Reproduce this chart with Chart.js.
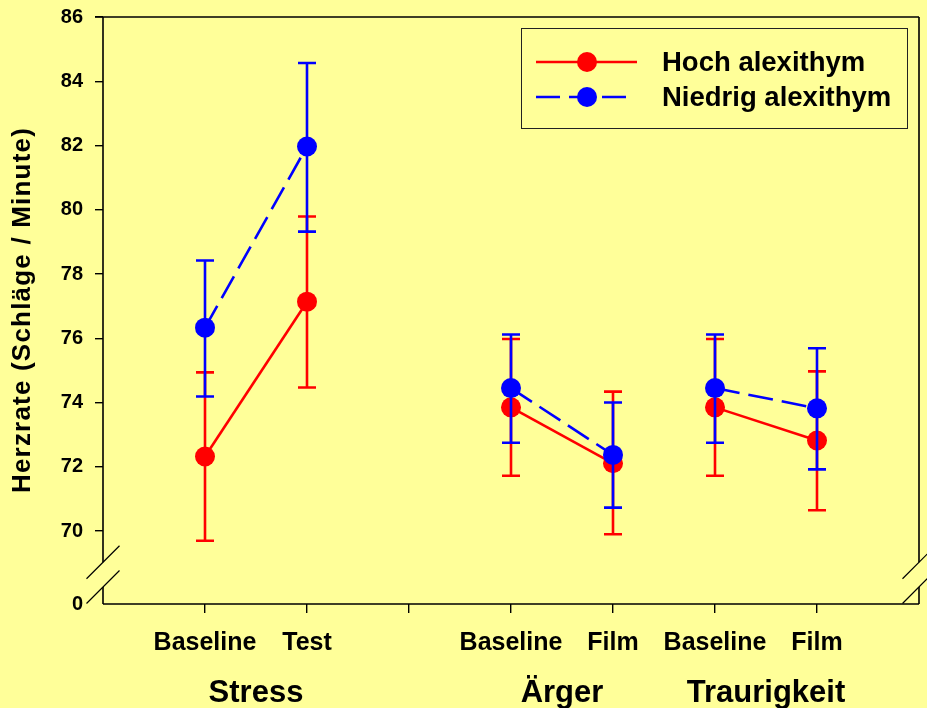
<!DOCTYPE html>
<html>
<head>
<meta charset="utf-8">
<title>Herzrate</title>
<script src="https://cdn.jsdelivr.net/npm/chart.js@4/dist/chart.umd.min.js"></script>
<style>
  html, body { margin: 0; padding: 0; background: #FFFF99; }
  #wrap { width: 927px; height: 708px; }
</style>
</head>
<body>
<div id="wrap"><canvas id="chart" width="927" height="708"></canvas></div>
<script>
// Conditions along the x axis (position 3 is an empty slot between Stress and Ärger)
const conditionLabels = ['Baseline', 'Test', 'Baseline', 'Film', 'Baseline', 'Film'];
const conditionPos = [1, 2, 4, 5, 6, 7];
const conditionGroup = ['Stress', 'Stress', 'Ärger', 'Ärger', 'Traurigkeit', 'Traurigkeit'];
const groupLabels = ['Stress', 'Ärger', 'Traurigkeit'];
const xTickPositions = [1, 2, 3, 4, 5, 6, 7];

// Heart rate (beats per minute), means with error bar limits
const hochMean  = [72.32, 77.14, 73.85, 72.11, 73.85, 72.82];
const hochUpper = [74.94, 79.79, 75.98, 74.34, 75.98, 74.97];
const hochLower = [69.70, 74.47, 71.72, 69.90, 71.72, 70.65];

const niedrigMean  = [76.33, 81.97, 74.45, 72.37, 74.45, 73.82];
const niedrigUpper = [78.42, 84.57, 76.12, 74.00, 76.12, 75.69];
const niedrigLower = [74.19, 79.32, 72.75, 70.73, 72.75, 71.92];

// Y axis: broken axis, bottom end labelled 0, then 70..86
const yTickValues = [70, 72, 74, 76, 78, 80, 82, 84, 86];
const yBottomValue = 67.73;
const yBottomLabel = '0';
const axisBreak = [68.26, 69.03];

const seriesNames = ['Hoch alexithym', 'Niedrig alexithym'];
const RED = '#FF0000';
const BLUE = '#0000FF';
const FONT = '"Liberation Sans", Arial, Helvetica, sans-serif';

const errorBars = [
  { upper: hochUpper, lower: hochLower },
  { upper: niedrigUpper, lower: niedrigLower }
];

function points(values) {
  return conditionPos.map((x, i) => ({ x: x, y: values[i] }));
}

// Lines only join points of the same block
function segColor(ctx) {
  return conditionGroup[ctx.p0DataIndex] === conditionGroup[ctx.p1DataIndex] ? undefined : 'rgba(0,0,0,0)';
}

const errorBarPlugin = {
  id: 'errorBars',
  beforeDatasetDraw(chart, args) {
    const eb = errorBars[args.index];
    if (!eb) return;
    const ds = chart.data.datasets[args.index];
    const x = chart.scales.x, y = chart.scales.y;
    const ctx = chart.ctx;
    ctx.save();
    ctx.strokeStyle = ds.borderColor;
    ctx.lineWidth = 2.6;
    ctx.lineCap = 'butt';
    ctx.setLineDash([]);
    conditionPos.forEach((pos, i) => {
      const px = x.getPixelForValue(pos);
      const top = y.getPixelForValue(eb.upper[i]);
      const bot = y.getPixelForValue(eb.lower[i]);
      ctx.beginPath();
      ctx.moveTo(px, top); ctx.lineTo(px, bot);
      ctx.moveTo(px - 9, top); ctx.lineTo(px + 9, top);
      ctx.moveTo(px - 9, bot); ctx.lineTo(px + 9, bot);
      ctx.stroke();
    });
    ctx.restore();
  }
};

const framePlugin = {
  id: 'frame',
  beforeDatasetsDraw(chart) {
    const a = chart.chartArea, y = chart.scales.y, ctx = chart.ctx;
    const bLo = y.getPixelForValue(axisBreak[0]);
    const bHi = y.getPixelForValue(axisBreak[1]);
    ctx.save();
    ctx.strokeStyle = '#000';
    ctx.lineWidth = 1.6;
    ctx.beginPath();
    ctx.moveTo(a.left - 8, a.top); ctx.lineTo(a.right, a.top);
    ctx.moveTo(a.left, a.bottom); ctx.lineTo(a.right, a.bottom);
    [a.left, a.right].forEach(xx => {
      ctx.moveTo(xx, a.top); ctx.lineTo(xx, bHi);
      ctx.moveTo(xx, bLo); ctx.lineTo(xx, a.bottom);
    });
    ctx.stroke();
    // break marks
    ctx.lineWidth = 1.2;
    ctx.beginPath();
    [a.left, a.right].forEach(xx => {
      [bHi, bLo].forEach(yy => {
        ctx.moveTo(xx - 16.5, yy + 16.5);
        ctx.lineTo(xx + 16.5, yy - 16.5);
      });
    });
    ctx.stroke();
    ctx.restore();
  }
};

const labelsPlugin = {
  id: 'labels',
  afterDraw(chart) {
    const ctx = chart.ctx, x = chart.scales.x;
    ctx.save();
    ctx.fillStyle = '#000';
    // block names under the condition labels
    ctx.font = 'bold 31px ' + FONT;
    ctx.textAlign = 'center';
    ctx.textBaseline = 'alphabetic';
    groupLabels.forEach(g => {
      const ps = conditionPos.filter((p, i) => conditionGroup[i] === g);
      const mid = ps.reduce((s, p) => s + p, 0) / ps.length;
      ctx.fillText(g, x.getPixelForValue(mid), 702);
    });
    // y axis title
    ctx.save();
    ctx.translate(23, 310);
    ctx.rotate(-Math.PI / 2);
    ctx.font = 'bold 26px ' + FONT;
    if ('letterSpacing' in ctx) ctx.letterSpacing = '1.2px';
    ctx.textBaseline = 'middle';
    ctx.textAlign = 'center';
    ctx.fillText('Herzrate (Schläge / Minute)', 0, 0);
    ctx.restore();

    // legend box
    ctx.strokeStyle = '#222';
    ctx.lineWidth = 1;
    ctx.strokeRect(521.5, 28.5, 386, 100);
    const rows = [
      { y: 62, color: RED, dash: [] },
      { y: 97, color: BLUE, dash: [24, 9] }
    ];
    rows.forEach((r, i) => {
      ctx.strokeStyle = r.color;
      ctx.lineWidth = 2.6;
      ctx.setLineDash(r.dash);
      ctx.beginPath();
      ctx.moveTo(536, r.y); ctx.lineTo(i === 0 ? 637 : 627, r.y);
      ctx.stroke();
      ctx.setLineDash([]);
      ctx.fillStyle = r.color;
      ctx.beginPath();
      ctx.arc(587, r.y, 10, 0, Math.PI * 2);
      ctx.fill();
      ctx.fillStyle = '#000';
      ctx.font = 'bold 27.5px ' + FONT;
      ctx.textAlign = 'left';
      ctx.textBaseline = 'middle';
      ctx.fillText(seriesNames[i], 662, r.y + 1);
    });
    ctx.restore();
  }
};

new Chart(document.getElementById('chart'), {
  type: 'line',
  data: {
    datasets: [
      {
        label: seriesNames[0],
        data: points(hochMean),
        borderColor: RED,
        backgroundColor: RED,
        borderWidth: 2.6,
        pointRadius: 10,
        pointHoverRadius: 10,
        pointBorderWidth: 0,
        pointBackgroundColor: RED,
        segment: { borderColor: segColor },
        order: 2
      },
      {
        label: seriesNames[1],
        data: points(niedrigMean),
        borderColor: BLUE,
        backgroundColor: BLUE,
        borderWidth: 2.6,
        borderDash: [25, 9],
        pointRadius: 10,
        pointHoverRadius: 10,
        pointBorderWidth: 0,
        pointBackgroundColor: BLUE,
        segment: { borderColor: segColor },
        order: 1
      }
    ]
  },
  options: {
    responsive: false,
    animation: false,
    events: [],
    clip: false,
    layout: { autoPadding: false, padding: { top: 17, right: 8, left: 0, bottom: 0 } },
    plugins: { legend: { display: false }, tooltip: { enabled: false } },
    scales: {
      x: {
        type: 'linear',
        min: 0,
        max: 8,
        border: { display: false },
        grid: { drawOnChartArea: false, drawTicks: true, tickLength: 9, color: '#000', lineWidth: 1.4 },
        afterBuildTicks(scale) { scale.ticks = xTickPositions.map(v => ({ value: v })); },
        afterFit(scale) {
          scale.height = 104;
          scale.paddingLeft = 0; scale.paddingRight = 0;
          scale.paddingTop = 0; scale.paddingBottom = 0;
        },
        ticks: {
          autoSkip: false,
          maxRotation: 0,
          padding: 15,
          color: '#000',
          font: { family: FONT, size: 25, weight: 'bold' },
          callback(value) {
            const i = conditionPos.indexOf(value);
            return i >= 0 ? conditionLabels[i] : '';
          }
        }
      },
      y: {
        type: 'linear',
        min: yBottomValue,
        max: 86,
        border: { display: false },
        grid: {
          drawOnChartArea: false,
          drawTicks: true,
          tickLength: 8,
          lineWidth: 1.4,
          color: ctx => (ctx.tick && ctx.tick.value === yBottomValue) ? 'rgba(0,0,0,0)' : '#000'
        },
        afterBuildTicks(scale) {
          scale.ticks = [{ value: yBottomValue }].concat(yTickValues.map(v => ({ value: v })));
        },
        afterFit(scale) {
          scale.width = 103;
          scale.paddingLeft = 0; scale.paddingRight = 0;
          scale.paddingTop = 0; scale.paddingBottom = 0;
        },
        ticks: {
          padding: 12,
          color: '#000',
          font: { family: FONT, size: 20, weight: 'bold' },
          callback(value) { return value === yBottomValue ? yBottomLabel : String(value); }
        }
      }
    }
  },
  plugins: [framePlugin, errorBarPlugin, labelsPlugin]
});
</script>
</body>
</html>
